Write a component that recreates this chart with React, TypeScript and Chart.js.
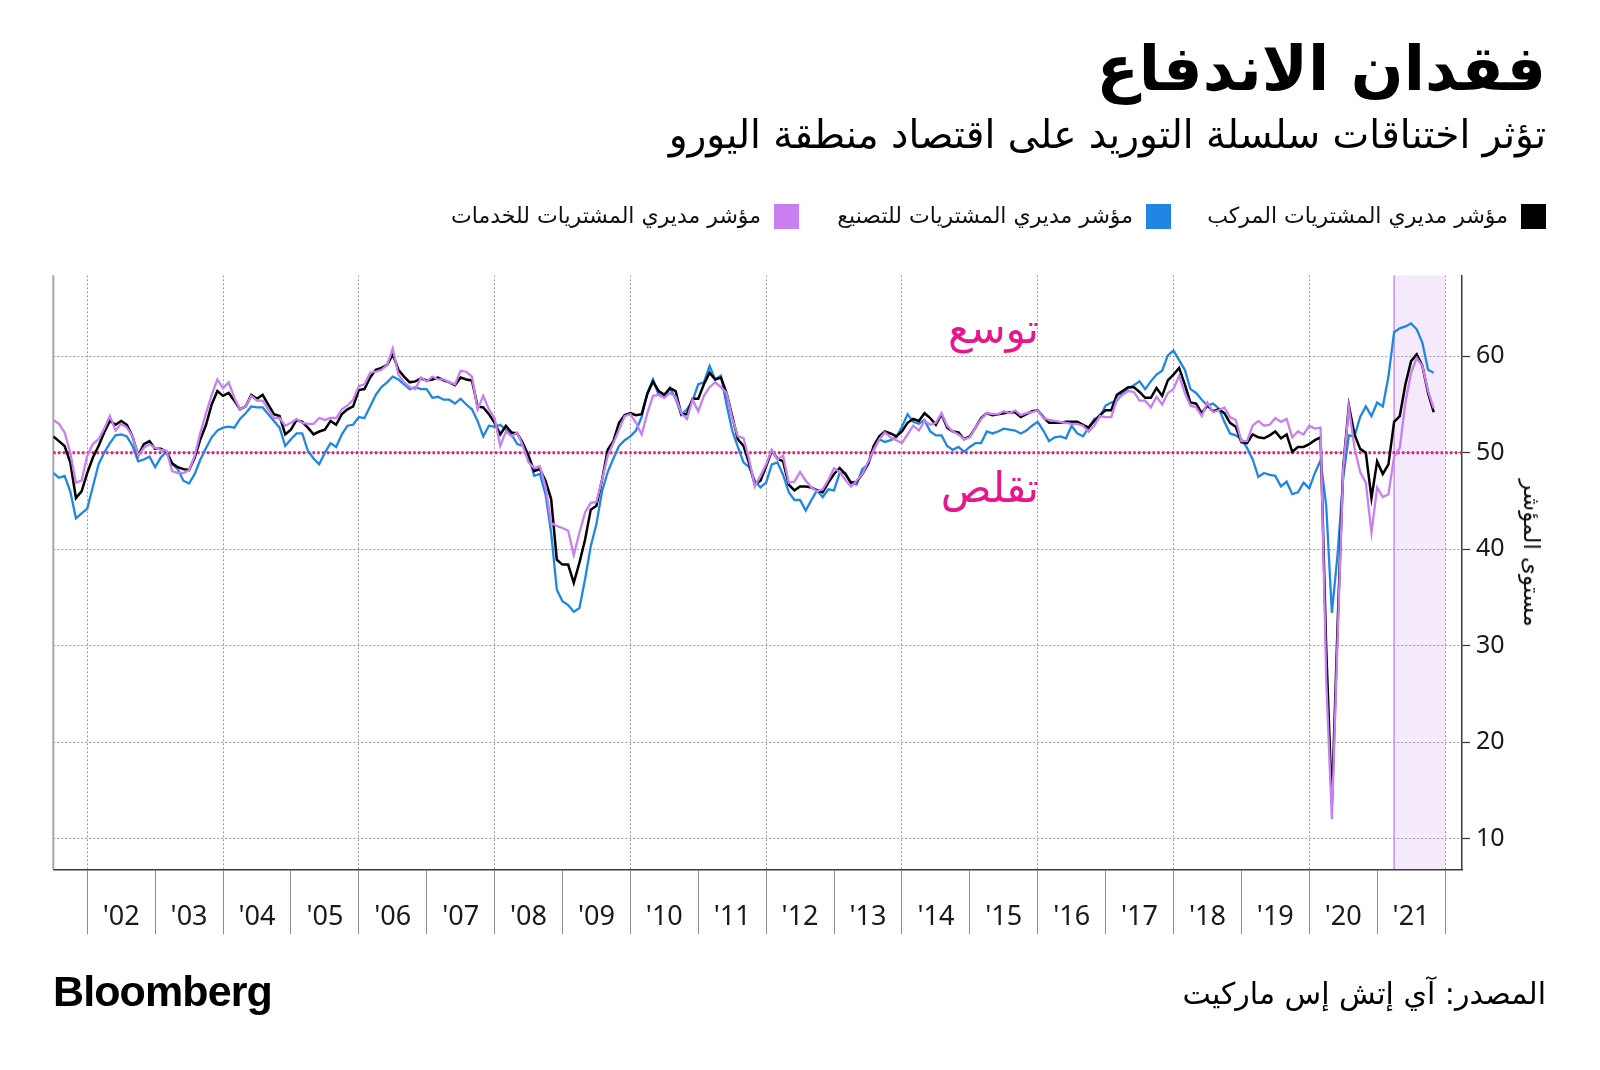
import React, { useEffect, useRef } from "react";
import { Chart, registerables } from "chart.js";

Chart.register(...registerables);

// ---- Data (monthly, June 2001 .. October 2021, plotted at month end) ----
const startYear = 2001;
const startMonth = 6;

const composite = [
  51.7, 51.2, 50.7, 49.0, 45.3, 46.0, 47.9,
  49.5, 50.7, 52.1, 53.3, 52.9, 53.3, 52.9, 51.7, 49.7, 50.9, 51.2, 50.4,
  50.4, 50.1, 48.9, 48.5, 48.3, 48.2, 49.5, 51.4, 52.9, 55.0, 56.4, 55.9,
  56.2, 55.4, 54.5, 54.8, 56.0, 55.6, 56.0, 55.0, 54.0, 53.8, 51.9, 52.4,
  53.4, 53.2, 52.6, 51.9, 52.2, 52.4, 53.3, 52.9, 54.0, 54.5, 54.8, 56.5,
  56.6, 57.8, 58.6, 58.8, 59.1, 60.2, 58.6, 57.9, 57.3, 57.4, 57.7, 57.5,
  57.6, 57.8, 57.5, 57.3, 57.0, 57.8, 57.6, 57.5, 54.8, 54.7, 54.0, 53.1,
  51.9, 52.8, 52.1, 52.0, 51.0, 49.7, 48.1, 48.3, 47.1, 45.2, 38.9, 38.4,
  38.4, 36.5, 38.6, 41.0, 44.1, 44.5, 47.2, 50.3, 51.2, 53.1, 53.9, 54.1,
  53.9, 54.0, 56.1, 57.4, 56.4, 56.0, 56.7, 56.4, 54.0, 54.0, 55.6, 55.6,
  57.1, 58.3, 57.6, 57.8, 56.2, 53.8, 51.4, 50.7, 48.9, 46.7, 47.1, 48.6,
  50.2, 49.4, 49.1, 46.7, 46.1, 46.5, 46.5, 46.4, 46.1, 45.9, 46.9, 47.8,
  48.4, 47.8, 46.9, 47.0, 47.8, 48.8, 50.7, 51.7, 52.2, 52.0, 51.7, 52.2,
  53.1, 53.5, 53.3, 54.1, 53.6, 52.9, 54.0, 52.6, 52.2, 52.1, 51.4, 51.7,
  52.6, 53.6, 54.1, 53.9, 54.0, 54.1, 54.2, 54.2, 53.7, 54.0, 54.3, 54.4,
  53.7, 53.1, 53.1, 53.1, 53.2, 53.2, 53.2, 52.9, 52.6, 53.3, 53.9, 54.4,
  54.4, 56.0, 56.4, 56.8, 56.8, 56.3, 55.7, 55.7, 56.7, 55.9, 57.5, 58.1,
  58.8, 57.1, 55.2, 55.1, 54.1, 54.9, 54.3, 54.5, 54.1, 53.1, 52.7, 51.1,
  51.0, 51.9, 51.6, 51.5, 51.8, 52.2, 51.5, 51.9, 50.1, 50.6, 50.6, 50.9,
  51.3, 51.6, 29.7, 13.6, 31.9, 48.5, 54.9, 51.9, 50.4, 50.0, 45.3, 49.1,
  47.8, 48.8, 53.2, 53.8, 57.1, 59.5, 60.2, 59.0, 56.2, 54.2,
];

const manufacturing = [
  47.9, 47.4, 47.6, 46.0, 43.2, 43.7, 44.2,
  46.5, 48.8, 50.0, 51.0, 51.8, 51.9, 51.7, 50.7, 49.1, 49.3, 49.6, 48.5,
  49.5, 50.1, 48.8, 48.3, 47.1, 46.8, 47.8, 49.3, 50.5, 51.6, 52.3, 52.6,
  52.7, 52.6, 53.5, 54.1, 54.8, 54.7, 54.7, 54.0, 53.3, 52.6, 50.7, 51.4,
  52.0, 52.0, 50.2, 49.4, 48.8, 50.0, 51.0, 50.6, 51.9, 52.8, 52.9, 53.7,
  53.6, 54.8, 56.0, 56.8, 57.3, 57.9, 57.6, 57.1, 56.6, 56.8, 56.6, 56.6,
  55.7, 55.8, 55.5, 55.5, 55.1, 55.6, 55.0, 54.5, 53.3, 51.7, 52.8, 52.7,
  52.9, 52.4, 51.9, 50.9, 50.7, 49.7, 47.6, 47.8, 45.7, 41.7, 35.8, 34.6,
  34.2, 33.5, 33.9, 36.9, 40.3, 42.6, 46.0, 48.0, 49.4, 50.7, 51.3, 51.7,
  52.3, 53.7, 56.2, 57.6, 56.0, 55.8, 56.7, 55.6, 53.9, 54.5, 55.4, 57.1,
  57.3, 59.0, 57.6, 58.0, 55.0, 52.3, 50.6, 49.0, 48.5, 47.1, 46.4, 46.9,
  48.8, 49.0, 47.7, 45.9, 45.1, 45.1, 44.0, 45.1, 46.1, 45.4, 46.2, 46.1,
  47.9, 47.9, 46.8, 46.7, 48.3, 48.8, 50.3, 51.4, 51.1, 51.3, 51.6, 52.7,
  54.0, 53.2, 53.0, 53.4, 52.2, 51.8, 51.8, 50.7, 50.3, 50.6, 50.1, 50.6,
  51.0, 51.0, 52.2, 52.0, 52.2, 52.5, 52.4, 52.3, 52.0, 52.3, 52.8, 53.2,
  52.3, 51.2, 51.6, 51.7, 51.5, 52.8, 52.0, 51.7, 52.6, 53.5, 53.7, 54.9,
  55.2, 55.4, 56.2, 56.7, 57.0, 57.4, 56.6, 57.4, 58.1, 58.5, 60.1, 60.6,
  59.6, 58.6, 56.6, 56.2, 55.5, 54.9, 55.1, 54.6, 53.2, 52.0, 51.8, 51.4,
  50.5, 49.3, 47.5, 47.9, 47.7, 47.6, 46.5, 47.0, 45.7, 45.9, 46.9, 46.3,
  47.9, 49.2, 44.5, 33.4, 39.4, 47.4, 51.8, 51.7, 53.7, 54.8, 53.8, 55.2,
  54.8, 57.9, 62.5, 62.9, 63.1, 63.4, 62.8, 61.4, 58.6, 58.3,
];

const services = [
  53.4, 53.0, 52.1, 50.0, 46.9, 47.1, 49.7,
  50.9, 51.4, 52.5, 53.8, 52.3, 53.0, 52.6, 51.7, 49.7, 50.5, 50.9, 50.5,
  50.3, 50.2, 48.1, 47.9, 47.9, 48.2, 49.7, 52.1, 54.1, 56.0, 57.6, 56.7,
  57.3, 55.7, 54.5, 54.8, 55.9, 55.4, 55.4, 54.5, 53.6, 53.6, 52.8, 53.1,
  53.5, 53.1, 53.0, 53.0, 53.6, 53.4, 53.6, 53.6, 54.5, 54.9, 55.5, 56.9,
  57.1, 58.3, 58.4, 58.6, 59.1, 60.8, 58.1, 57.3, 56.8, 56.6, 57.8, 57.4,
  57.9, 57.6, 57.6, 57.3, 57.1, 58.5, 58.4, 57.9, 54.5, 55.9, 54.5, 53.6,
  50.7, 52.2, 51.7, 52.1, 50.7, 49.0, 48.4, 48.6, 46.5, 42.7, 42.4, 42.2,
  41.9, 39.4, 41.7, 43.8, 44.8, 44.9, 47.2, 49.7, 51.0, 52.4, 53.8, 54.0,
  53.1, 51.9, 54.1, 55.9, 56.0, 55.7, 56.2, 55.8, 54.1, 53.5, 55.5, 54.3,
  55.9, 56.8, 57.3, 56.8, 56.2, 53.6, 51.7, 51.5, 49.3, 46.5, 47.6, 48.8,
  50.3, 49.3, 49.7, 46.9, 47.0, 48.0, 47.1, 46.4, 46.0, 46.2, 47.2, 48.4,
  48.0, 47.2, 46.5, 47.1, 47.8, 49.0, 50.3, 51.4, 52.1, 51.6, 51.3, 51.0,
  51.9, 52.8, 52.3, 53.3, 52.9, 53.1, 54.1, 52.8, 52.2, 51.9, 51.4, 51.6,
  52.6, 53.5, 54.1, 54.0, 54.0, 54.3, 54.1, 54.4, 53.9, 54.1, 54.2, 54.4,
  53.6, 53.4, 53.3, 53.2, 53.1, 53.0, 53.0, 52.8, 52.2, 52.8, 53.8, 53.7,
  53.7, 55.5, 56.0, 56.4, 56.3, 55.4, 55.4, 54.7, 55.8, 55.0, 56.2, 56.6,
  58.0, 56.2, 54.9, 54.7, 53.8, 55.2, 54.2, 54.4, 54.7, 53.7, 53.4, 51.2,
  51.2, 52.8, 53.3, 52.8, 52.9, 53.6, 53.2, 53.5, 51.6, 52.2, 51.9, 52.8,
  52.5, 52.6, 26.4, 12.0, 30.5, 48.3, 54.7, 50.5, 48.0, 46.9, 41.7, 46.4,
  45.4, 45.7, 49.6, 50.5, 55.2, 58.3, 59.8, 59.0, 56.4, 54.6,
];

const seriesNames = [
  "مؤشر مديري المشتريات المركب",
  "مؤشر مديري المشتريات للتصنيع",
  "مؤشر مديري المشتريات للخدمات",
];
const seriesColors = ["#000000", "#1f86e3", "#c77ff2"];

const yTicks = [10, 20, 30, 40, 50, 60];
const yearBoundaries = [
  2002, 2003, 2004, 2005, 2006, 2007, 2008, 2009, 2010, 2011, 2012,
  2013, 2014, 2015, 2016, 2017, 2018, 2019, 2020, 2021, 2022,
];
const yearLabels = [
  "'02", "'03", "'04", "'05", "'06", "'07", "'08", "'09", "'10", "'11",
  "'12", "'13", "'14", "'15", "'16", "'17", "'18", "'19", "'20", "'21",
];
const threshold = 50;
const highlightPeriod = [2021.25, 2022.0];
const xRange = [2001.5, 2022.25];
const yRange = [6.8, 68.4];

const titleText = "فقدان الاندفاع";
const subtitleText = "تؤثر اختناقات سلسلة التوريد على اقتصاد منطقة اليورو";
const expansionText = "توسع";
const contractionText = "تقلص";
const yAxisTitle = "مستوى المؤشر";
const sourceText = "المصدر: آي إتش إس ماركيت";

// ---- Layout (pixels) ----
const W = 1600;
const H = 1070;
const PLOT = { left: 53.3, top: 275.3, right: 1462, bottom: 869.3 };
const ARABIC = '"DejaVu Sans", sans-serif';
const LATIN = '"Noto Sans", "DejaVu Sans", sans-serif';
const TRANSPARENT = "rgba(0,0,0,0)";

const toPoints = (vals: number[]) =>
  vals.map((v, i) => ({ x: startYear + (startMonth + i) / 12, y: v }));

const midYearTicks = yearBoundaries.slice(0, -1).map((y) => y + 0.5);
const xTickValues = [...yearBoundaries, ...midYearTicks].sort((a, b) => a - b);

function App() {
  const canvasRef = useRef<HTMLCanvasElement | null>(null);

  useEffect(() => {
    const canvas = canvasRef.current;
    if (!canvas) return;

    const leftBorder = {
      id: "leftBorder",
      beforeDatasetsDraw(chart: any) {
        const { ctx, chartArea } = chart;
        ctx.save();
        ctx.strokeStyle = "#a8a8a8";
        ctx.lineWidth = 2;
        ctx.beginPath();
        ctx.moveTo(chartArea.left, chartArea.top);
        ctx.lineTo(chartArea.left, chartArea.bottom);
        ctx.stroke();
        ctx.restore();
      },
    };

    const chart = new Chart(canvas, {
      type: "line",
      data: {
        datasets: [
          {
            label: seriesNames[2],
            data: toPoints(services),
            borderColor: seriesColors[2],
            borderWidth: 2.3,
            pointRadius: 0,
            tension: 0,
            order: 0,
          },
          {
            label: seriesNames[0],
            data: toPoints(composite),
            borderColor: seriesColors[0],
            borderWidth: 2.5,
            pointRadius: 0,
            tension: 0,
            order: 1,
          },
          {
            label: seriesNames[1],
            data: toPoints(manufacturing),
            borderColor: seriesColors[1],
            borderWidth: 2.3,
            pointRadius: 0,
            tension: 0,
            order: 2,
          },
          {
            label: "threshold",
            data: [
              { x: xRange[0], y: threshold },
              { x: xRange[1], y: threshold },
            ],
            borderColor: "#e8157f",
            borderWidth: 2.8,
            borderDash: [2.4, 2.4],
            pointRadius: 0,
            order: 3,
          },
          {
            label: "band-edge",
            data: [
              { x: highlightPeriod[0], y: yRange[0] },
              { x: highlightPeriod[0], y: yRange[1] },
            ],
            borderColor: "#c88ef0",
            borderWidth: 1.5,
            pointRadius: 0,
            order: 4,
          },
          {
            label: "band",
            data: [
              { x: highlightPeriod[0], y: yRange[1] },
              { x: highlightPeriod[1], y: yRange[1] },
            ],
            borderWidth: 0,
            borderColor: TRANSPARENT,
            backgroundColor: "rgba(196,125,240,0.17)",
            fill: "start",
            pointRadius: 0,
            order: 5,
          },
        ] as any,
      },
      options: {
        responsive: false,
        animation: false,
        events: [],
        layout: {
          padding: { left: PLOT.left, top: PLOT.top, right: 0, bottom: 0 },
        },
        plugins: {
          legend: { display: false },
          tooltip: { enabled: false },
          title: { display: false },
        },
        scales: {
          x: {
            type: "linear",
            position: "bottom",
            min: xRange[0],
            max: xRange[1],
            afterBuildTicks: (scale: any) => {
              scale.ticks = xTickValues.map((v) => ({ value: v }));
            },
            afterFit: (scale: any) => {
              scale.height = H - PLOT.bottom;
            },
            grid: {
              color: (ctx: any) => {
                const v = ctx.tick ? ctx.tick.value : NaN;
                return Number.isInteger(v) && v % 2 === 0 ? "#9c9c9c" : TRANSPARENT;
              },
              lineWidth: 1,
              drawTicks: true,
              tickLength: 65,
              tickWidth: 1,
              tickColor: (ctx: any) => {
                const v = ctx.tick ? ctx.tick.value : NaN;
                return Number.isInteger(v) ? "#8c8c8c" : TRANSPARENT;
              },
              tickBorderDash: [],
            },
            border: { display: true, color: "#3a3a3a", width: 1.5, dash: [2, 2] },
            ticks: {
              autoSkip: false,
              maxRotation: 0,
              minRotation: 0,
              padding: -33,
              color: "#1a1a1a",
              font: { family: LATIN, size: 27 },
              callback: (value: any) => {
                const v = Number(value);
                if (Number.isInteger(v)) return "";
                const idx = Math.floor(v) - yearBoundaries[0];
                return yearLabels[idx] ?? "";
              },
            },
          },
          y: {
            type: "linear",
            position: "right",
            min: yRange[0],
            max: yRange[1],
            afterBuildTicks: (scale: any) => {
              scale.ticks = yTicks.map((v) => ({ value: v }));
            },
            afterFit: (scale: any) => {
              scale.width = W - PLOT.right;
            },
            grid: {
              color: "#9c9c9c",
              lineWidth: 1,
              drawTicks: true,
              tickLength: 8,
              tickWidth: 1.2,
              tickColor: "#333333",
              tickBorderDash: [],
            },
            border: { display: true, color: "#3a3a3a", width: 1.5, dash: [2, 2] },
            ticks: {
              padding: 6,
              color: "#1a1a1a",
              font: { family: LATIN, size: 25 },
              callback: (value: any) => String(value),
            },
          },
        },
      } as any,
      plugins: [leftBorder],
    });

    return () => {
      chart.destroy();
    };
  }, []);

  const abs: React.CSSProperties = { position: "absolute", whiteSpace: "nowrap" };

  const legendRights = [W - 1546, W - 1171, W - 799];

  return (
    <div
      style={{
        position: "absolute",
        left: 0,
        top: 0,
        width: W,
        height: H,
        background: "#ffffff",
        overflow: "hidden",
      }}
    >
      <canvas
        ref={canvasRef}
        width={W}
        height={H}
        style={{ position: "absolute", left: 0, top: 0, width: W, height: H }}
      />

      <div
        style={{
          ...abs,
          right: W - 1546,
          top: 24,
          fontFamily: ARABIC,
          fontWeight: 700,
          fontSize: 62,
          lineHeight: "90px",
          direction: "rtl",
          color: "#000",
        }}
      >
        {titleText}
      </div>

      <div
        style={{
          ...abs,
          right: W - 1546,
          top: 108,
          fontFamily: ARABIC,
          fontSize: 39,
          lineHeight: "54px",
          direction: "rtl",
          color: "#000",
        }}
      >
        {subtitleText}
      </div>

      {seriesNames.map((name, i) => (
        <div
          key={name}
          style={{
            ...abs,
            right: legendRights[i],
            top: 200,
            height: 32,
            display: "flex",
            flexDirection: "row",
            alignItems: "center",
            direction: "rtl",
            gap: 13,
          }}
        >
          <span
            style={{
              display: "inline-block",
              width: 25,
              height: 25,
              background: seriesColors[i],
            }}
          />
          <span
            style={{
              fontFamily: ARABIC,
              fontSize: 22,
              color: "#111",
              lineHeight: "32px",
            }}
          >
            {name}
          </span>
        </div>
      ))}

      <div
        style={{
          ...abs,
          right: W - 1039,
          top: 301,
          fontFamily: ARABIC,
          fontSize: 42,
          lineHeight: "56px",
          direction: "rtl",
          color: "#e8158c",
        }}
      >
        {expansionText}
      </div>
      <div
        style={{
          ...abs,
          right: W - 1039,
          top: 460,
          fontFamily: ARABIC,
          fontSize: 42,
          lineHeight: "56px",
          direction: "rtl",
          color: "#e8158c",
        }}
      >
        {contractionText}
      </div>

      <div
        style={{
          ...abs,
          left: 1532,
          top: 553,
          transform: "translate(-50%, -50%) rotate(90deg)",
          fontFamily: ARABIC,
          fontSize: 23,
          lineHeight: "30px",
          direction: "rtl",
          color: "#111",
        }}
      >
        {yAxisTitle}
      </div>

      <div
        style={{
          ...abs,
          left: 53,
          top: 965,
          fontFamily: '"Liberation Sans", Arial, sans-serif',
          fontWeight: 700,
          fontSize: 43,
          lineHeight: "52px",
          letterSpacing: -0.9,
          color: "#000",
        }}
      >
        Bloomberg
      </div>

      <div
        style={{
          ...abs,
          right: W - 1546,
          top: 973,
          fontFamily: ARABIC,
          fontSize: 30,
          lineHeight: "42px",
          direction: "rtl",
          color: "#000",
        }}
      >
        {sourceText}
      </div>
    </div>
  );
}

export default App;
